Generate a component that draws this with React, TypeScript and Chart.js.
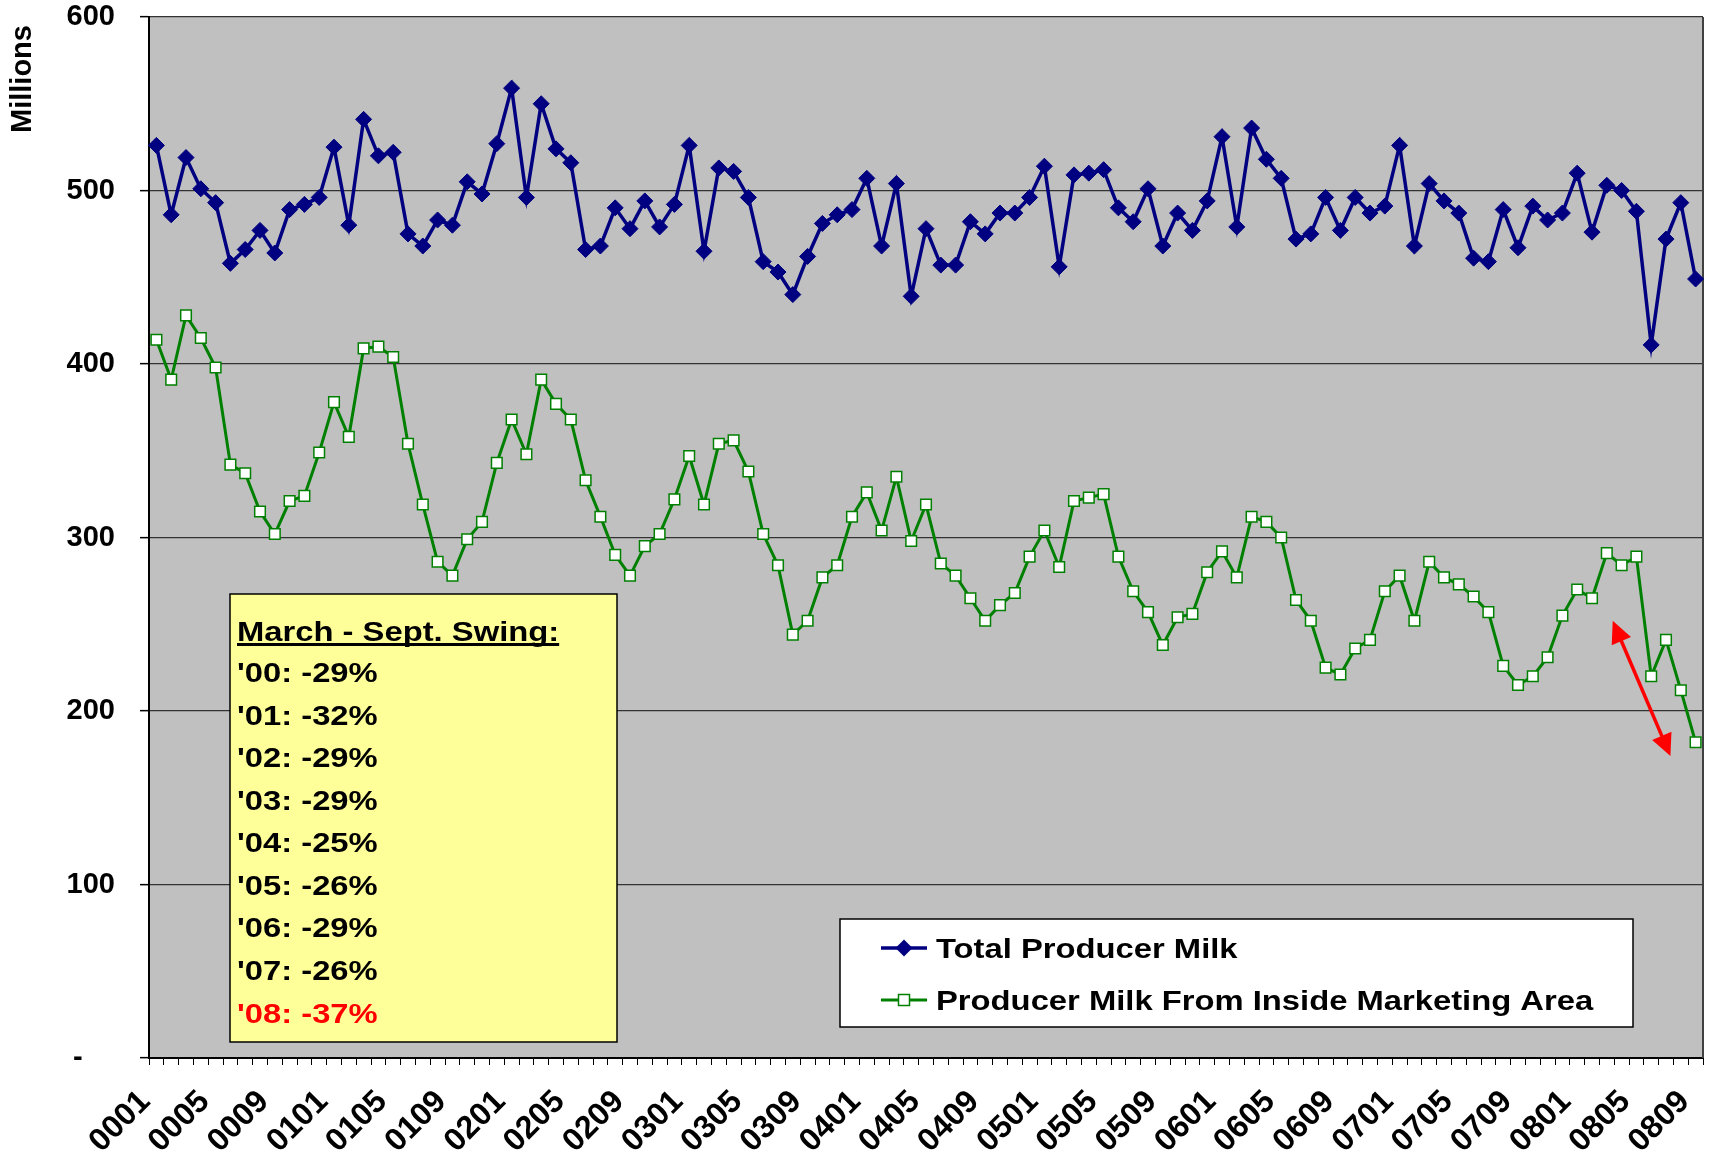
import React, { useEffect, useRef } from 'react';
import { Chart, registerables } from 'chart.js';

Chart.register(...registerables);

const FONT = "'Liberation Sans', Arial, Helvetica, sans-serif";

// Categories: year-month codes (YYMM)
const months = [
  '0001','0002','0003','0004','0005','0006','0007','0008','0009','0010','0011','0012',
  '0101','0102','0103','0104','0105','0106','0107','0108','0109','0110','0111','0112',
  '0201','0202','0203','0204','0205','0206','0207','0208','0209','0210','0211','0212',
  '0301','0302','0303','0304','0305','0306','0307','0308','0309','0310','0311','0312',
  '0401','0402','0403','0404','0405','0406','0407','0408','0409','0410','0411','0412',
  '0501','0502','0503','0504','0505','0506','0507','0508','0509','0510','0511','0512',
  '0601','0602','0603','0604','0605','0606','0607','0608','0609','0610','0611','0612',
  '0701','0702','0703','0704','0705','0706','0707','0708','0709','0710','0711','0712',
  '0801','0802','0803','0804','0805','0806','0807','0808','0809',
];
const labelEvery = 4;

// Millions of pounds
const totalProducerMilk = [
  526, 486, 519, 501, 493, 458, 466, 477, 464, 489, 492, 496,
  525, 480, 541, 520, 522, 475, 468, 483, 480, 505, 498, 527,
  559, 496, 550, 524, 516, 466, 468, 490, 478, 494, 479, 492,
  526, 465, 513, 511, 496, 459, 453, 440, 462, 481, 486, 489,
  507, 468, 504, 439, 478, 457, 457, 482, 475, 487, 487, 496,
  514, 456, 509, 510, 512, 490, 482, 501, 468, 487, 477, 494,
  531, 479, 536, 518, 507, 472, 475, 496, 477, 496, 487, 491,
  526, 468, 504, 494, 487, 461, 459, 489, 467, 491, 483, 487,
  510, 476, 503, 500, 488, 411, 472, 493, 449,
];
const insideMarketingArea = [
  414, 391, 428, 415, 398, 342, 337, 315, 302, 321, 324, 349,
  378, 358, 409, 410, 404, 354, 319, 286, 278, 299, 309, 343,
  368, 348, 391, 377, 368, 333, 312, 290, 278, 295, 302, 322,
  347, 319, 354, 356, 338, 302, 284, 244, 252, 277, 284, 312,
  326, 304, 335, 298, 319, 285, 278, 265, 252, 261, 268, 289,
  304, 283, 321, 323, 325, 289, 269, 257, 238, 254, 256, 280,
  292, 277, 312, 309, 300, 264, 252, 225, 221, 236, 241, 269,
  278, 252, 286, 277, 273, 266, 257, 226, 215, 220, 231, 255,
  270, 265, 291, 284, 289, 220, 241, 212, 182,
];

const seriesNames = ['Total Producer Milk', 'Producer Milk From Inside Marketing Area'];
const yAxisTitle = 'Millions';
const yMin = 0;
const yMax = 600;
const yStep = 100;

const swingTitle = 'March - Sept. Swing:';
const swingLines = ["'00: -29%", "'01: -32%", "'02: -29%", "'03: -29%", "'04: -25%", "'05: -26%", "'06: -29%", "'07: -26%", "'08: -37%"];

// Double-headed arrow annotation (category index, value)
const arrowStart = [98.4, 252];
const arrowEnd = [102.3, 174];

const NAVY = '#000080';
const GREEN = '#008000';
const STRETCH = 1.17;
const TARGET_AREA = { left: 149, top: 17, right: 1703, bottom: 1058 };

function stretchText(ctx: CanvasRenderingContext2D, text: string, x: number, y: number, sx: number) {
  ctx.save();
  ctx.translate(x, y);
  ctx.scale(sx, 1);
  ctx.fillText(text, 0, 0);
  ctx.restore();
}

const plotBackground = {
  id: 'plotBackground',
  beforeDraw(chart: any) {
    const { ctx, chartArea: a } = chart;
    ctx.save();
    ctx.fillStyle = '#ffffff';
    ctx.fillRect(0, 0, chart.width, chart.height);
    ctx.fillStyle = '#C0C0C0';
    ctx.fillRect(a.left, a.top, a.right - a.left, a.bottom - a.top);
    ctx.restore();
  },
  beforeDatasetsDraw(chart: any) {
    const { ctx, chartArea: a } = chart;
    ctx.save();
    ctx.strokeStyle = '#404040';
    ctx.lineWidth = 2;
    ctx.beginPath();
    ctx.moveTo(a.right, a.top);
    ctx.lineTo(a.right, a.bottom);
    ctx.stroke();
    ctx.restore();
  },
};

function drawArrowHead(ctx: CanvasRenderingContext2D, tipX: number, tipY: number, fromX: number, fromY: number, len: number, half: number) {
  const ang = Math.atan2(tipY - fromY, tipX - fromX);
  const bx = tipX - len * Math.cos(ang);
  const by = tipY - len * Math.sin(ang);
  ctx.beginPath();
  ctx.moveTo(tipX, tipY);
  ctx.lineTo(bx + half * Math.sin(ang), by - half * Math.cos(ang));
  ctx.lineTo(bx - half * Math.sin(ang), by + half * Math.cos(ang));
  ctx.closePath();
  ctx.fill();
}

const annotations = {
  id: 'annotations',
  afterDatasetsDraw(chart: any) {
    const { ctx } = chart;
    const xs = chart.scales.x;
    const ys = chart.scales.y;
    const x1 = xs.getPixelForValue(arrowStart[0]);
    const y1 = ys.getPixelForValue(arrowStart[1]);
    const x2 = xs.getPixelForValue(arrowEnd[0]);
    const y2 = ys.getPixelForValue(arrowEnd[1]);
    ctx.save();
    ctx.strokeStyle = '#FF0000';
    ctx.fillStyle = '#FF0000';
    ctx.lineWidth = 3.5;
    const ang = Math.atan2(y2 - y1, x2 - x1);
    const inset = 16;
    ctx.beginPath();
    ctx.moveTo(x1 + inset * Math.cos(ang), y1 + inset * Math.sin(ang));
    ctx.lineTo(x2 - inset * Math.cos(ang), y2 - inset * Math.sin(ang));
    ctx.stroke();
    drawArrowHead(ctx, x1, y1, x2, y2, 22, 10.5);
    drawArrowHead(ctx, x2, y2, x1, y1, 22, 10.5);
    ctx.restore();
  },
  afterDraw(chart: any) {
    const { ctx } = chart;
    ctx.save();
    // Swing text box
    const bx = 230, by = 594, bw = 387, bh = 448;
    ctx.fillStyle = '#FFFF99';
    ctx.fillRect(bx, by, bw, bh);
    ctx.strokeStyle = '#000000';
    ctx.lineWidth = 1.5;
    ctx.strokeRect(bx, by, bw, bh);
    ctx.font = `bold 28px ${FONT}`;
    ctx.textAlign = 'left';
    ctx.textBaseline = 'alphabetic';
    ctx.fillStyle = '#000000';
    const tx = 237;
    stretchText(ctx, swingTitle, tx, 641, STRETCH);
    const tw = ctx.measureText(swingTitle).width * STRETCH;
    ctx.fillRect(tx, 643, tw, 3);
    const baselines = [682, 725, 767, 810, 852, 895, 937, 980, 1023];
    swingLines.forEach((t, i) => {
      ctx.fillStyle = i === swingLines.length - 1 ? '#FF0000' : '#000000';
      stretchText(ctx, t, tx, baselines[i], STRETCH);
    });

    // Legend box
    const lx = 840, ly = 919, lw = 793, lh = 108;
    ctx.fillStyle = '#ffffff';
    ctx.fillRect(lx, ly, lw, lh);
    ctx.strokeStyle = '#000000';
    ctx.lineWidth = 1.5;
    ctx.strokeRect(lx, ly, lw, lh);
    const rows = [948, 1000];
    rows.forEach((ry, i) => {
      const color = i === 0 ? NAVY : GREEN;
      ctx.strokeStyle = color;
      ctx.lineWidth = i === 0 ? 3.5 : 3;
      ctx.beginPath();
      ctx.moveTo(881, ry);
      ctx.lineTo(927, ry);
      ctx.stroke();
      if (i === 0) {
        ctx.fillStyle = NAVY;
        ctx.beginPath();
        ctx.moveTo(904 - 8.5, ry);
        ctx.lineTo(904, ry - 8.5);
        ctx.lineTo(904 + 8.5, ry);
        ctx.lineTo(904, ry + 8.5);
        ctx.closePath();
        ctx.fill();
      } else {
        ctx.fillStyle = '#ffffff';
        ctx.fillRect(898.5, ry - 5.5, 11, 11);
        ctx.strokeStyle = GREEN;
        ctx.lineWidth = 1.5;
        ctx.strokeRect(898.5, ry - 5.5, 11, 11);
      }
      ctx.fillStyle = '#000000';
      ctx.font = `bold 28px ${FONT}`;
      stretchText(ctx, seriesNames[i], 936, ry + 10, STRETCH);
    });
    ctx.restore();
  },
};

export default function App() {
  const canvasRef = useRef<HTMLCanvasElement | null>(null);

  useEffect(() => {
    document.body.style.margin = '0';
    const canvas = canvasRef.current;
    if (!canvas) return;
    const pad = { top: 17, right: 7, left: 0, bottom: 0 };
    const chart = new Chart(canvas, {
      type: 'line',
      data: {
        labels: months,
        datasets: [
          {
            label: seriesNames[0],
            data: totalProducerMilk,
            borderColor: NAVY,
            backgroundColor: NAVY,
            borderWidth: 3.5,
            pointStyle: 'rectRot',
            pointRadius: 8,
            pointBorderWidth: 1,
            pointBackgroundColor: NAVY,
            pointBorderColor: NAVY,
            tension: 0,
          },
          {
            label: seriesNames[1],
            data: insideMarketingArea,
            borderColor: GREEN,
            backgroundColor: '#ffffff',
            borderWidth: 3,
            pointStyle: 'rect',
            pointRadius: 7.5,
            pointBorderWidth: 1.5,
            pointBackgroundColor: '#ffffff',
            pointBorderColor: GREEN,
            tension: 0,
          },
        ],
      },
      options: {
        responsive: false,
        animation: false,
        devicePixelRatio: 1,
        layout: { padding: { ...pad }, autoPadding: false },
        plugins: {
          legend: { display: false },
          tooltip: { enabled: false },
          title: { display: false },
        },
        scales: {
          x: {
            type: 'category',
            offset: true,
            grid: {
              offset: true,
              drawOnChartArea: false,
              drawTicks: true,
              tickLength: 7,
              tickColor: '#000000',
              tickWidth: 1,
            },
            border: { display: true, color: '#000000', width: 2 },
            ticks: {
              autoSkip: false,
              maxRotation: 45,
              minRotation: 45,
              padding: 18,
              labelOffset: -11,
              color: '#000000',
              font: { family: FONT, size: 32, weight: 'bold' },
              callback: (_v: any, i: number) => (i % labelEvery === 0 ? months[i] : ''),
            },
            afterFit: (s: any) => {
              s.height = 97;
              s.paddingLeft = 0;
              s.paddingRight = 0;
            },
          },
          y: {
            min: yMin,
            max: yMax,
            grid: {
              color: '#333333',
              lineWidth: 1.3,
              drawTicks: true,
              tickLength: 9,
              tickColor: '#000000',
              tickWidth: 1.5,
            },
            border: { display: true, color: '#000000', width: 2 },
            ticks: {
              stepSize: yStep,
              padding: 25,
              color: '#000000',
              font: { family: FONT, size: 29, weight: 'bold' },
              callback: (v: any) => (v === 0 ? '-    ' : String(v)),
            },
            title: {
              display: true,
              text: yAxisTitle + ' ',
              align: 'end',
              color: '#000000',
              font: { family: FONT, size: 29, weight: 'bold' },
              padding: { top: 6, bottom: 0 },
            },
            afterFit: (s: any) => {
              s.width = 149;
              s.paddingTop = 0;
              s.paddingBottom = 0;
            },
          },
        },
      },
      plugins: [plotBackground, annotations],
    } as any);

    // Calibrate layout padding so the plot area lands where the reference has it.
    for (let k = 0; k < 3; k++) {
      const a = chart.chartArea;
      const dt = TARGET_AREA.top - a.top;
      const dl = TARGET_AREA.left - a.left;
      const dr = a.right - TARGET_AREA.right;
      const db = a.bottom - TARGET_AREA.bottom;
      if (Math.abs(dt) + Math.abs(dl) + Math.abs(dr) + Math.abs(db) < 0.5) break;
      pad.top += dt;
      pad.left += dl;
      pad.right += dr;
      pad.bottom += db;
      (chart.options as any).layout.padding = { ...pad };
      chart.update();
    }

    return () => chart.destroy();
  }, []);

  return (
    <div style={{ width: 1710, height: 1155, position: 'relative' }}>
      <canvas ref={canvasRef} width={1710} height={1155} style={{ display: 'block', width: 1710, height: 1155 }} />
    </div>
  );
}
